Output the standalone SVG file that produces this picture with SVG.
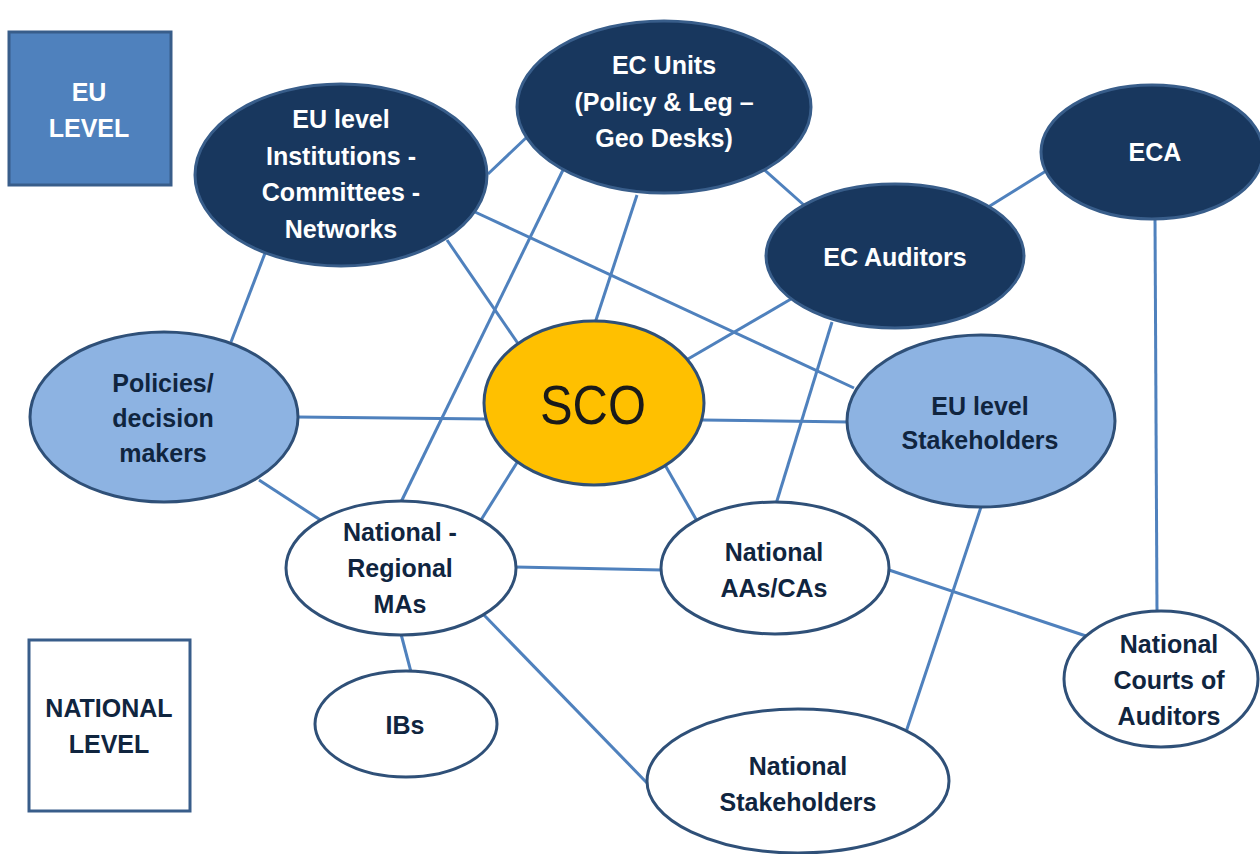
<svg xmlns="http://www.w3.org/2000/svg" width="1260" height="854" viewBox="0 0 1260 854">
<style>
.dark{fill:#18375e;stroke:#385d8a;stroke-width:3}
.light{fill:#8db3e2;stroke:#2f5078;stroke-width:3}
.white{fill:#ffffff;stroke:#2f5078;stroke-width:3}
.sco{fill:#ffc000;stroke:#2f5078;stroke-width:3}
.conn line{stroke:#4f81bd;stroke-width:3;fill:none}
text{font-family:"Liberation Sans",Arial,sans-serif;font-weight:bold;font-size:25px;text-anchor:middle}
.wt{fill:#ffffff}
.dt{fill:#10253f}
</style>
<rect width="1260" height="854" fill="#ffffff"/>
<g id="connectors" class="conn">
<line x1="488" y1="174" x2="528" y2="136"/>
<line x1="267" y1="248" x2="231" y2="342"/>
<line x1="447" y1="240" x2="519" y2="345"/>
<line x1="475" y1="212" x2="854" y2="388"/>
<line x1="563" y1="170" x2="401" y2="502"/>
<line x1="637" y1="195" x2="595" y2="323"/>
<line x1="759" y1="165" x2="805" y2="206"/>
<line x1="1046" y1="171" x2="985" y2="209"/>
<line x1="1155" y1="217" x2="1157" y2="613"/>
<line x1="791" y1="299" x2="688" y2="359"/>
<line x1="832" y1="322" x2="776" y2="504"/>
<line x1="297" y1="417" x2="487" y2="419"/>
<line x1="259" y1="480" x2="322" y2="521"/>
<line x1="702" y1="420" x2="849" y2="422"/>
<line x1="518" y1="461" x2="481" y2="520"/>
<line x1="665" y1="465" x2="697" y2="521"/>
<line x1="515" y1="567" x2="662" y2="570"/>
<line x1="889" y1="570" x2="1086" y2="636"/>
<line x1="981" y1="507" x2="906" y2="732"/>
<line x1="401" y1="634" x2="411" y2="672"/>
<line x1="483" y1="614" x2="648" y2="784"/>
</g>
<g id="eu-level-box">
<rect x="9" y="32" width="162" height="153" fill="#4f81bd" stroke="#385d8a" stroke-width="3"/>
<text class="wt" x="89" y="101">EU</text>
<text class="wt" x="89" y="137">LEVEL</text>
</g>
<g id="national-level-box">
<rect x="29" y="640" width="161" height="171" fill="#ffffff" stroke="#385d8a" stroke-width="3"/>
<text class="dt" x="109" y="717">NATIONAL</text>
<text class="dt" x="109" y="753">LEVEL</text>
</g>
<g id="eu-institutions">
<ellipse class="dark" cx="341" cy="175" rx="146" ry="91"/>
<text class="wt" x="341" y="128">EU level</text>
<text class="wt" x="341" y="165">Institutions -</text>
<text class="wt" x="341" y="201">Committees -</text>
<text class="wt" x="341" y="238">Networks</text>
</g>
<g id="ec-units">
<ellipse class="dark" cx="664" cy="107" rx="147" ry="86"/>
<text class="wt" x="664" y="74">EC Units</text>
<text class="wt" x="664" y="111">(Policy &amp; Leg –</text>
<text class="wt" x="664" y="147">Geo Desks)</text>
</g>
<g id="eca">
<ellipse class="dark" cx="1152" cy="152" rx="111" ry="67"/>
<text class="wt" x="1155" y="161">ECA</text>
</g>
<g id="ec-auditors">
<ellipse class="dark" cx="895" cy="256" rx="129" ry="72"/>
<text class="wt" x="895" y="266">EC Auditors</text>
</g>
<g id="policies">
<ellipse class="light" cx="164" cy="417" rx="134" ry="85"/>
<text class="dt" x="163" y="392">Policies/</text>
<text class="dt" x="163" y="427">decision</text>
<text class="dt" x="163" y="462">makers</text>
</g>
<g id="sco">
<ellipse class="sco" cx="594" cy="403" rx="110" ry="82"/>
<text x="593" y="424" style="font-weight:normal;font-size:56px;fill:#1a1a1a" textLength="106" lengthAdjust="spacingAndGlyphs">SCO</text>
</g>
<g id="eu-stakeholders">
<ellipse class="light" cx="981" cy="421" rx="134" ry="86"/>
<text class="dt" x="980" y="415">EU level</text>
<text class="dt" x="980" y="449">Stakeholders</text>
</g>
<g id="national-mas">
<ellipse class="white" cx="401" cy="568" rx="115" ry="67"/>
<text class="dt" x="400" y="541">National -</text>
<text class="dt" x="400" y="577">Regional</text>
<text class="dt" x="400" y="613">MAs</text>
</g>
<g id="national-aas">
<ellipse class="white" cx="775" cy="568" rx="114" ry="66"/>
<text class="dt" x="774" y="561">National</text>
<text class="dt" x="774" y="597">AAs/CAs</text>
</g>
<g id="national-courts">
<ellipse class="white" cx="1161" cy="679" rx="97" ry="68"/>
<text class="dt" x="1169" y="653">National</text>
<text class="dt" x="1169" y="689">Courts of</text>
<text class="dt" x="1169" y="725">Auditors</text>
</g>
<g id="ibs">
<ellipse class="white" cx="406" cy="724" rx="91" ry="53"/>
<text class="dt" x="405" y="734">IBs</text>
</g>
<g id="national-stakeholders">
<ellipse class="white" cx="798" cy="781" rx="151" ry="72"/>
<text class="dt" x="798" y="775">National</text>
<text class="dt" x="798" y="811">Stakeholders</text>
</g>
</svg>
